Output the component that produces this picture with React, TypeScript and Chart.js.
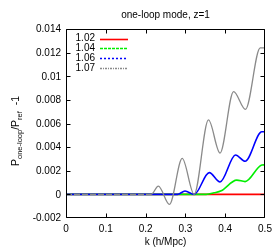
import { useEffect, useRef } from 'react';
import { Chart, registerables } from 'chart.js';
Chart.register(...registerables);

const TITLE = 'one-loop mode, z=1';
const X_LABEL = 'k (h/Mpc)';
const SERIES_NAMES = ['1.02', '1.04', '1.06', '1.07'];
const SERIES_COLORS = ['#ff0000', '#00ee00', '#0000ff', '#8a8a8a'];
const LEGEND_DASH: number[][] = [[], [3, 1], [2, 2], [2, 1, 1, 1]];
const FLAT_DASH: number[][] = [[], [], [], [6, 2]];
const SERIES_WIDTH = [1.6, 1.6, 1.6, 1.3];

const X_TICKS = [0, 0.1, 0.2, 0.3, 0.4, 0.5];
const Y_TICKS = [-0.002, 0, 0.002, 0.004, 0.006, 0.008, 0.01, 0.012, 0.014];

// series 1.02
const k102 = [0, 0.5];
const v102 = [0, 0];
// series 1.04
const k104 = [0, 0.352, 0.372, 0.39, 0.429, 0.45, 0.492, 0.5];
const v104 = [0, 0, 0.00013, 0.0003, 0.00121, 0.00108, 0.00248, 0.0025];
// series 1.06
const k106 = [0, 0.28, 0.299, 0.322, 0.36, 0.387, 0.426, 0.45, 0.492, 0.5];
const v106 = [0, 0, 0.00028, 0, 0.00184, 0.00105, 0.00333, 0.0028, 0.0053, 0.0053];
// series 1.07
const k107 = [0, 0.214, 0.232, 0.26, 0.292, 0.322, 0.358, 0.387, 0.421, 0.451, 0.488, 0.5];
const v107 = [0, 0, 0.0007, -0.00085, 0.00305, 0, 0.0063, 0.0035, 0.0087, 0.0072, 0.0124, 0.0124];

const FONT = '"Liberation Sans", Arial, Helvetica, sans-serif';

const fmt = (v: number) => {
  const n = Number(Number(v).toFixed(4));
  return n === 0 ? '0' : String(n);
};

const decor = {
  id: 'gnuplotDecor',
  afterDraw(chart: any) {
    const ctx = chart.ctx as CanvasRenderingContext2D;
    const a = chart.chartArea;
    const xs = chart.scales.x;
    const ys = chart.scales.y;
    const L = Math.round(a.left) + 0.5;
    const R = Math.round(a.right) - 0.5;
    const T = Math.round(a.top) + 0.5;
    const B = Math.round(a.bottom) - 0.5;
    ctx.save();
    ctx.strokeStyle = '#000';
    ctx.lineWidth = 1;
    ctx.setLineDash([]);
    ctx.beginPath();
    ctx.rect(L, T, R - L, B - T);
    ctx.stroke();
    const tl = 4;
    ctx.fillStyle = '#000';
    ctx.font = `10px ${FONT}`;
    ctx.beginPath();
    ctx.textAlign = 'center';
    ctx.textBaseline = 'middle';
    X_TICKS.forEach((v) => {
      const p = xs.getPixelForValue(v);
      const px = Math.min(Math.max(Math.round(p) + 0.5, L), R);
      ctx.moveTo(px, B);
      ctx.lineTo(px, B - tl);
      ctx.moveTo(px, T);
      ctx.lineTo(px, T + tl);
      ctx.fillText(fmt(v), p, a.bottom + 11);
    });
    ctx.textAlign = 'right';
    Y_TICKS.forEach((v) => {
      const p = ys.getPixelForValue(v);
      const py = Math.min(Math.max(Math.round(p) + 0.5, T), B);
      ctx.moveTo(L, py);
      ctx.lineTo(L + tl, py);
      ctx.moveTo(R, py);
      ctx.lineTo(R - tl, py);
      ctx.fillText(fmt(v), a.left - 5, p + 0.5);
    });
    ctx.stroke();

    // title
    ctx.textAlign = 'center';
    ctx.fillText(TITLE, (a.left + a.right) / 2, 15);
    // x label
    ctx.fillText(X_LABEL, (a.left + a.right) / 2, 242);

    // y label with subscripts
    ctx.save();
    ctx.translate(19, 166);
    ctx.rotate(-Math.PI / 2);
    ctx.textAlign = 'left';
    ctx.textBaseline = 'alphabetic';
    const parts: [string, boolean][] = [
      ['P', false],
      ['one-loop', true],
      ['/P', false],
      ['ref', true],
      ['  -1', false],
    ];
    let x = 0;
    parts.forEach(([s, sub]) => {
      ctx.font = sub ? `7.5px ${FONT}` : `10.5px ${FONT}`;
      ctx.fillText(s, x, sub ? 3 : 0);
      x += ctx.measureText(s).width;
    });
    ctx.restore();

    // legend
    ctx.font = `10px ${FONT}`;
    ctx.textAlign = 'right';
    ctx.textBaseline = 'middle';
    SERIES_NAMES.forEach((name, i) => {
      const y = 38.5 + i * 9.8;
      ctx.fillStyle = '#000';
      ctx.fillText(name, 95, y);
      ctx.strokeStyle = SERIES_COLORS[i];
      ctx.lineWidth = SERIES_WIDTH[i];
      ctx.setLineDash(LEGEND_DASH[i]);
      ctx.beginPath();
      const ly = Math.round(y) + 0.5;
      ctx.moveTo(100, ly);
      ctx.lineTo(128, ly);
      ctx.stroke();
    });
    ctx.restore();
  },
};

const toPts = (ks: number[], vs: number[]) => ks.map((k, i) => ({ x: k, y: vs[i] }));

export default function App() {
  const ref = useRef<HTMLCanvasElement | null>(null);
  useEffect(() => {
    if (!ref.current) return;
    const all = [
      toPts(k102, v102),
      toPts(k104, v104),
      toPts(k106, v106),
      toPts(k107, v107),
    ];
    const chart = new Chart(ref.current, {
      type: 'line',
      data: {
        datasets: all.map((d, i) => ({
          label: SERIES_NAMES[i],
          data: d,
          borderColor: SERIES_COLORS[i],
          borderWidth: SERIES_WIDTH[i],
          pointRadius: 0,
          fill: false,
          cubicInterpolationMode: 'monotone' as const,
          order: 3 - i,
          segment: {
            borderDash: (c: any) =>
              c.p0.parsed.y === 0 && c.p1.parsed.y === 0 ? FLAT_DASH[i] : [],
          },
        })),
      },
      options: {
        animation: false,
        responsive: true,
        maintainAspectRatio: false,
        layout: { padding: { top: 29, right: 15, left: 66, bottom: 32 } },
        plugins: {
          legend: { display: false },
          title: { display: false },
          tooltip: { enabled: false },
        },
        scales: {
          x: {
            type: 'linear',
            display: false,
            min: X_TICKS[0],
            max: X_TICKS[X_TICKS.length - 1],
          },
          y: {
            type: 'linear',
            display: false,
            min: Y_TICKS[0],
            max: Y_TICKS[Y_TICKS.length - 1],
          },
        },
      },
      plugins: [decor],
    });
    return () => chart.destroy();
  }, []);
  return (
    <div style={{ position: 'fixed', left: 0, top: 0, width: 280, height: 250, background: '#fff' }}>
      <canvas ref={ref} />
    </div>
  );
}
